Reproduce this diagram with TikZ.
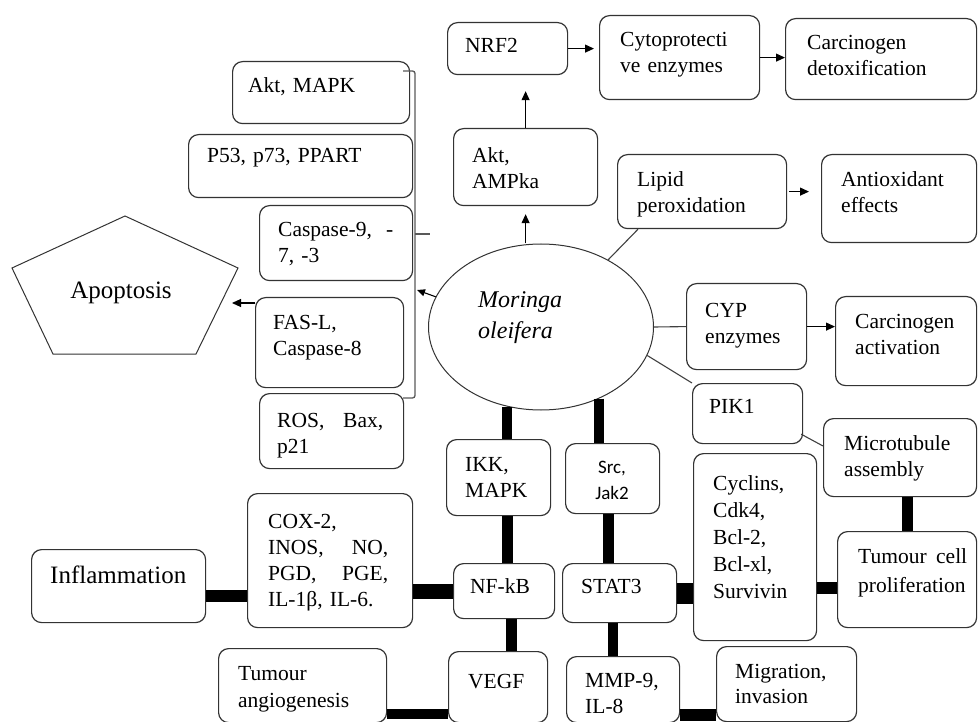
\documentclass[tikz,border=0pt]{standalone}
\usepackage{fontspec}
\setmainfont{Liberation Serif}
\newfontfamily\calibrifont{Carlito}
\usetikzlibrary{shapes.geometric,arrows.meta,calc}

\begin{document}
\begin{tikzpicture}[x=1pt,y=-1pt,
  box/.style={draw=black!80, line width=1.2pt, rounded corners=10pt, anchor=north west, inner sep=0pt},
  lbl/.style={anchor=base west, inner sep=0pt, align=left, text width=140pt, font=\fontsize{21.5}{26}\selectfont},
  arr/.style={draw=black, line width=1.1pt, -{Triangle[length=9pt,width=8pt]}},
  conn/.style={draw=black!75, line width=1.1pt},
  bar/.style={draw=black, line cap=butt},
  brk/.style={draw=black!65, line width=1.3pt, rounded corners=2.5pt}
]
\useasboundingbox (0,0) rectangle (978,722);

% ---------- central plant ----------
\node[draw=black!80, line width=1pt, ellipse, minimum width=225pt, minimum height=166pt, inner sep=0pt] (moringa) at (541,327) {};
\node[lbl, text width=100pt, font=\itshape\fontsize{24}{31}\selectfont] (moringa-t) at (478,308) {Moringa\\oleifera};

% ---------- apoptosis branch ----------
\node[box, minimum width=177pt, minimum height=62pt] (aktmapk) at (232,61) {};
\node[lbl] (aktmapk-t) at (248,93) {Akt, MAPK};
\node[box, minimum width=224pt, minimum height=63pt] (p53) at (188,134) {};
\node[lbl, text width=190pt] (p53-t) at (207,163) {P53, p73, PPART};
\node[box, minimum width=153pt, minimum height=75pt] (casp) at (259,205) {};
\node[lbl, text width=115pt] (casp-t) at (278,237) {Caspase-9,\hfill -\\7, -3};
\node[box, minimum width=148pt, minimum height=90pt] (fasl) at (255,297) {};
\node[lbl, text width=120pt] (fasl-t) at (273,330) {FAS-L,\\Caspase-8};
\node[box, minimum width=144pt, minimum height=75pt] (ros) at (259,393) {};
\node[lbl, text width=106pt] (ros-t) at (277,427) {ROS,\hfill Bax,\\p21};

\draw[draw=black!80, line width=1pt] (125,216) -- (238,268) -- (196,354) -- (53,354) -- (12,268) -- cycle;
\node[anchor=base, inner sep=0pt, font=\fontsize{25}{30}\selectfont] (apop) at (121,299) {Apoptosis};
\coordinate (apotip) at (232,303);

% bracket gathering the apoptotic mediators
\draw[brk] (403,71) -- (415,71) -- (415,398) -- (403,398);
\draw[brk] (415,234) -- (430,234);
\coordinate (brkmid) at (417,290);
\draw[arr, -{Triangle[length=8pt,width=7pt]}] (moringa.164) -- (brkmid);
\draw[arr] ($(fasl.north west)+(0,6)$) -- (apotip);

% ---------- NRF2 / antioxidant branch ----------
\node[box, minimum width=120pt, minimum height=52pt] (nrf2) at (447,22) {};
\node[lbl, text width=90pt] (nrf2-t) at (465,53) {NRF2};
\node[box, minimum width=160pt, minimum height=84pt] (cyto) at (599,15) {};
\node[lbl, text width=130pt] (cyto-t) at (620,47) {Cytoprotecti\\ve enzymes};
\node[box, minimum width=191pt, minimum height=81pt] (carcdet) at (785,18) {};
\node[lbl, text width=160pt] (carcdet-t) at (807,50) {Carcinogen\\detoxification};
\node[box, minimum width=144pt, minimum height=77pt] (aktampk) at (453,128) {};
\node[lbl, text width=110pt] (aktampk-t) at (472,163) {Akt,\\AMPka};
\node[box, minimum width=169pt, minimum height=74pt] (lipid) at (617,154) {};
\node[lbl, text width=140pt] (lipid-t) at (637,187) {Lipid\\peroxidation};
\node[box, minimum width=155pt, minimum height=88pt] (antiox) at (821,154) {};
\node[lbl, text width=130pt] (antiox-t) at (841,187) {Antioxidant\\effects};

\draw[arr, shorten >=8pt] (aktampk.south |- moringa.north) -- (aktampk.south);
\draw[arr, shorten >=16pt] (aktampk.north) -- (aktampk.north |- nrf2.south);
\draw[arr, shorten >=5pt] (nrf2.east) -- (nrf2.east -| cyto.west);
\draw[arr] (cyto.east) -- (cyto.east -| carcdet.west);
\draw[conn] (moringa.45) -- ($(lipid.south west)+(21,0)$);
\draw[arr, shorten <=2pt, shorten >=12pt] (lipid.east) -- (lipid.east -| antiox.west);

% ---------- CYP / PIK1 branch ----------
\node[box, minimum width=120pt, minimum height=86pt] (cyp) at (686,283) {};
\node[lbl, text width=100pt] (cyp-t) at (705,317) {CYP\\enzymes};
\node[box, minimum width=141pt, minimum height=89pt] (carcact) at (835,296) {};
\node[lbl, text width=115pt] (carcact-t) at (855,328) {Carcinogen\\activation};
\node[box, minimum width=110pt, minimum height=60pt] (pik1) at (692,383) {};
\node[lbl, text width=80pt] (pik1-t) at (709,413) {PIK1};
\node[box, minimum width=153pt, minimum height=78pt] (micro) at (823,418) {};
\node[lbl, text width=125pt] (micro-t) at (844,450) {Microtubule\\assembly};

\draw[conn] (moringa.east) -- (cyp.west);
\draw[arr] (cyp.east) -- (cyp.east -| carcact.west);
\draw[conn] (moringa.-15) -- (pik1.north west);
\draw[conn] ($(pik1.south east)+(-2,-10)$) -- ($(micro.north west)+(0,28)$);

% ---------- NF-kB / STAT3 signalling ----------
\node[box, minimum width=104pt, minimum height=76pt] (ikk) at (446,439) {};
\node[lbl, text width=80pt] (ikk-t) at (465,471) {IKK,\\MAPK};
\node[box, minimum width=94pt, minimum height=70pt] (src) at (565,443) {};
\node[anchor=base, inner sep=0pt, align=center, text width=70pt, font=\calibrifont\fontsize{19}{26}\selectfont] (src-t) at (612,473) {Src,\\Jak2};
\node[box, minimum width=101pt, minimum height=55pt] (nfkb) at (453,563) {};
\node[lbl, text width=80pt] (nfkb-t) at (470,593) {NF-kB};
\node[box, minimum width=114pt, minimum height=59pt] (stat3) at (562,563) {};
\node[lbl, text width=90pt] (stat3-t) at (581,593) {STAT3};
\node[box, minimum width=165pt, minimum height=134pt] (cox) at (247,493) {};
\node[lbl, text width=120pt] (cox-t) at (268,528) {COX-2,\\INOS,\hfill NO,\\PGD,\hfill PGE,\\IL-1β, IL-6.};
\node[box, minimum width=174pt, minimum height=73pt] (infl) at (31,549) {};
\node[anchor=base west, inner sep=0pt, font=\fontsize{25}{30}\selectfont] (infl-t) at (50,583) {Inflammation};
\node[box, minimum width=123pt, minimum height=187pt] (cyc) at (693,453) {};
\node[lbl, text width=100pt, font=\fontsize{21.5}{27.2}\selectfont] (cyc-t) at (713,490) {Cyclins,\\Cdk4,\\Bcl-2,\\Bcl-xl,\\Survivin};
\node[box, minimum width=139pt, minimum height=96pt] (tcp) at (837,531) {};
\node[lbl, text width=109pt, font=\fontsize{21.5}{29}\selectfont] (tcp-t) at (858,563) {Tumour\hfill cell\\proliferation};
\node[box, minimum width=99pt, minimum height=71pt] (vegf) at (448,651) {};
\node[lbl, text width=75pt] (vegf-t) at (468,688) {VEGF};
\node[box, minimum width=168pt, minimum height=74pt] (angio) at (218,648) {};
\node[lbl, text width=140pt, font=\fontsize{21.5}{27}\selectfont] (angio-t) at (238,680) {Tumour\\angiogenesis};
\node[box, minimum width=113pt, minimum height=66pt] (mmp) at (566,656) {};
\node[lbl, text width=90pt] (mmp-t) at (585,687) {MMP-9,\\IL-8};
\node[box, minimum width=140pt, minimum height=75pt] (mig) at (716,646) {};
\node[lbl, text width=115pt, font=\fontsize{21.5}{25}\selectfont] (mig-t) at (735,678) {Migration,\\invasion};

% thick links
\coordinate (b4) at ($(nfkb.south)+(7,0)$);
\coordinate (b5) at ($(src.south)+(-4,0)$);
\coordinate (b6) at ($(stat3.south)+(-7,0)$);
\coordinate (b7) at ($(infl.east)+(0,9.5)$);
\coordinate (b10) at ($(tcp.west)+(0,8)$);
\coordinate (b11) at ($(micro.south)+(7,0)$);
\coordinate (b12) at ($(angio.east)+(0,28)$);
\coordinate (b13) at ($(mmp.east)+(0,25)$);

\draw[bar, line width=10pt] (moringa.247) -- (ikk.north -| moringa.247);
\draw[bar, line width=10pt] (moringa.309) -- (src.north -| moringa.309);
\draw[bar, line width=11pt] (ikk.south -| moringa.247) -- (nfkb.north -| moringa.247);
\draw[bar, line width=11pt] (b4) -- (vegf.north -| b4);
\draw[bar, line width=11pt] (b5) -- (stat3.north -| b5);
\draw[bar, line width=10pt] (b6) -- (mmp.north -| b6);
\draw[bar, line width=12pt] (b7) -- (cox.west |- b7);
\draw[bar, line width=15pt] (nfkb.west) -- (cox.east |- nfkb.west);
\draw[bar, line width=21pt] (stat3.east) -- (cyc.west |- stat3.east);
\draw[bar, line width=12pt] (b10) -- (cyc.east |- b10);
\draw[bar, line width=11pt] (b11) -- (tcp.north -| b11);
\draw[bar, line width=10pt] (b12) -- (vegf.west |- b12);
\draw[bar, line width=12pt] (b13) -- (mig.west |- b13);

\end{tikzpicture}
\end{document}
